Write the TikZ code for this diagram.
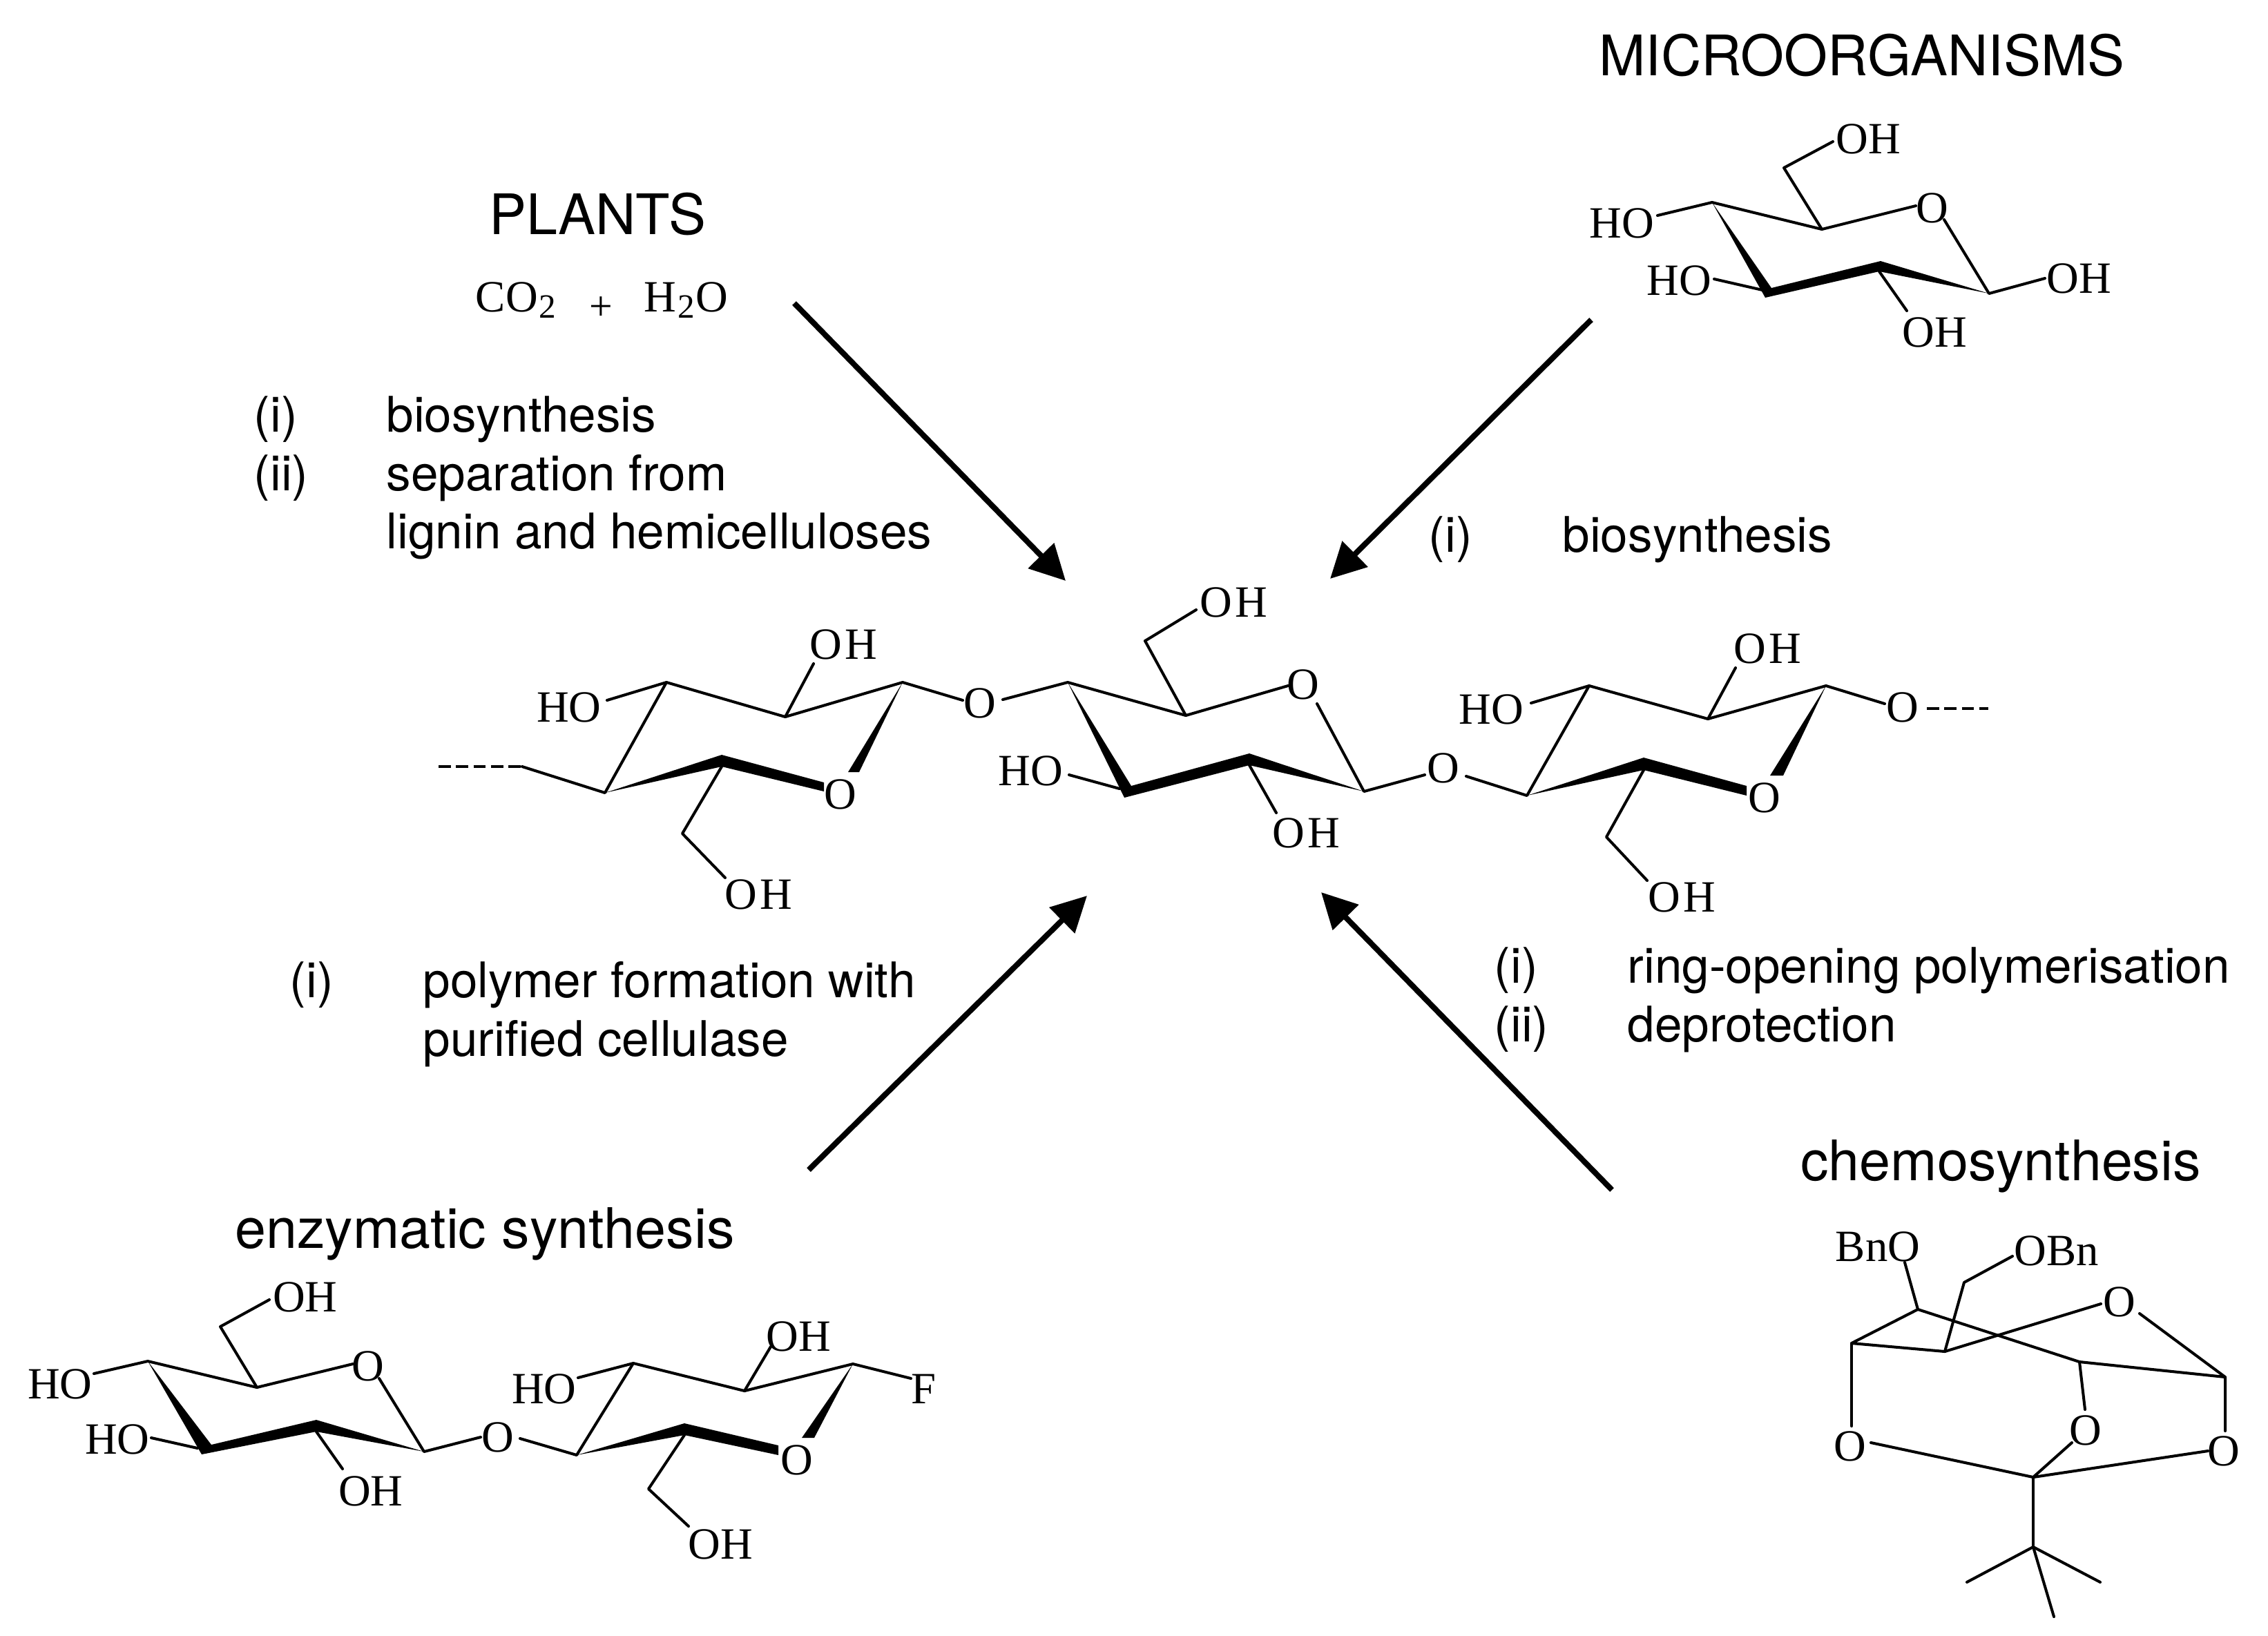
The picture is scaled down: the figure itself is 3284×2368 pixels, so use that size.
\documentclass[tikz,border=0pt]{standalone}
\usepackage{fontspec}
\setmainfont{TeX Gyre Heros}
\newfontfamily\chemserif{Liberation Serif}
\usetikzlibrary{arrows.meta}
\newcommand{\OHwide}{O\kern1.2pt H}
\newcommand{\subtwo}{\kern0.6pt\raisebox{-2.6pt}{\fontsize{14}{15}\selectfont 2}\kern0.4pt}
\tikzset{
  bond/.style={line width=1.15pt,line cap=round,line join=round},
  wedgefill/.style={fill=black,draw=none},
  chem/.style={font=\chemserif\fontsize{18.4}{20}\selectfont,inner sep=0pt},
  title/.style={font=\fontsize{23}{26}\selectfont,inner sep=0pt},
  lab/.style={font=\fontsize{20.2}{24}\selectfont,inner sep=0pt,anchor=base west},
  bigarrow/.style={line width=2.3pt,-{Triangle[length=14.5pt,width=14.5pt]}},
  dashb/.style={line width=1.4pt,dash pattern=on 5pt off 2.2pt},
}
\begin{document}
\begin{tikzpicture}[x=0.01cm,y=-0.01cm]
\useasboundingbox (0,0) rectangle (3284,2368);

% Titles
\node[title] (tplants) at (865,310) {PLANTS};
\node[title] (tmicro) at (2696,80) {MICROORGANISMS};
\node[title] (tchemo) at (2897,1689) {chemosynthesis};
\node[title] (tenz) at (702,1787) {enzymatic synthesis};

% CO2 + H2O
\node[chem,anchor=base] (co) at (748,451) {CO\subtwo};
\node[chem,font=\chemserif\fontsize{17}{20}\selectfont] (plus) at (870,447) {+};
\node[chem,anchor=base] (hho) at (993,451) {H\subtwo O};

% Side labels
\node[lab] (a1) at (367,625) {(i)};
\node[lab] (a1t) at (559,625) {biosynthesis};
\node[lab] (a2) at (367,710) {(ii)};
\node[lab] (a2t) at (559,710) {separation from};
\node[lab] (a3t) at (559,794) {lignin and hemicelluloses};
\node[lab] (b1) at (2068,799) {(i)};
\node[lab] (b1t) at (2262,799) {biosynthesis};
\node[lab] (c1) at (419,1444) {(i)};
\node[lab] (c1t) at (612,1444) {polymer formation with};
\node[lab] (c2t) at (612,1529) {purified cellulase};
\node[lab] (d1) at (2163,1423) {(i)};
\node[lab] (d1t) at (2356,1423) {ring-opening polymerisation};
\node[lab] (d2) at (2163,1508) {(ii)};
\node[lab] (d2t) at (2356,1508) {deprotection};

% Big arrows
\coordinate (ar1s) at (1150,439); \coordinate (ar1e) at (1543,841);
\coordinate (ar2s) at (2304,463); \coordinate (ar2e) at (1926,838);
\coordinate (ar3s) at (1171,1694); \coordinate (ar3e) at (1574,1297);
\coordinate (ar4s) at (2334,1723); \coordinate (ar4e) at (1913,1292);
\draw[bigarrow] (ar1s) -- (ar1e);
\draw[bigarrow] (ar2s) -- (ar2e);
\draw[bigarrow] (ar3s) -- (ar3e);
\draw[bigarrow] (ar4s) -- (ar4e);

% ---- Central chain: left unit
\draw[dashb] (635,1110) -- (756,1110);
\draw[bond] (756,1110) -- (876,1148) -- (965,988) -- (1137,1038) -- (1307,988) -- (1394,1014);
\draw[bond] (965,988) -- (879,1014);
\draw[bond] (1137,1038) -- (1178,961);
\draw[bond] (1045,1110) -- (988,1207) -- (1050,1271);
\fill[wedgefill] (876,1148) -- (1045,1093) -- (1193,1133) -- (1193,1146) -- (1045,1110) -- cycle;
\fill[wedgefill] (1307,988) -- (1244,1118) -- (1228,1118) -- cycle;
\node[chem] (l1) at (824,1024) {HO};
\node[chem] (l2) at (1221,933) {\OHwide};
\node[chem] (l3) at (1098,1295) {\OHwide};
\node[chem] (l4) at (1217,1150) {O};
\node[chem] (l5) at (1419,1018) {O};
% middle unit
\draw[bond] (1452,1013) -- (1546,988) -- (1717,1036) -- (1865,993);
\draw[bond] (1658,928) -- (1717,1036);
\draw[bond] (1658,928) -- (1732,883);
\draw[bond] (1548,1122) -- (1621,1142);
\draw[bond] (1907,1019) -- (1975,1146) -- (2063,1122);
\draw[bond] (1809,1108) -- (1848,1177);
\fill[wedgefill] (1546,988) -- (1638,1138) -- (1809,1091) -- (1975,1146) -- (1809,1108) -- (1628,1155) -- cycle;
\node[chem] (m1) at (1492,1116) {HO};
\node[chem] (m2) at (1786,872) {\OHwide};
\node[chem] (m3) at (1887,991) {O};
\node[chem] (m4) at (1891,1206) {\OHwide};
\node[chem] (m5) at (2090,1112) {O};
% right unit
\draw[bond] (2123,1124) -- (2211,1152) -- (2301,993) -- (2473,1041) -- (2644,993) -- (2729,1019);
\draw[bond] (2301,993) -- (2217,1018);
\draw[bond] (2473,1041) -- (2513,967);
\draw[bond] (2380,1115) -- (2326,1212) -- (2385,1275);
\fill[wedgefill] (2211,1152) -- (2380,1097) -- (2529,1138) -- (2529,1152) -- (2380,1115) -- cycle;
\fill[wedgefill] (2644,993) -- (2582,1123) -- (2563,1123) -- cycle;
\draw[dashb] (2790,1026) -- (2879,1026);
\node[chem] (r1) at (2159,1027) {HO};
\node[chem] (r2) at (2559,939) {\OHwide};
\node[chem] (r3) at (2755,1024) {O};
\node[chem] (r4) at (2555,1155) {O};
\node[chem] (r5) at (2435,1299) {\OHwide};

% ---- Microorganisms glucose
\draw[bond] (2654,205) -- (2583,243) -- (2638,332);
\draw[bond] (2400,312) -- (2479,293) -- (2638,332) -- (2774,298);
\draw[bond] (2815,318) -- (2880,425) -- (2961,403);
\draw[bond] (2482,404) -- (2552,420);
\draw[bond] (2721,393) -- (2761,450);
\fill[wedgefill] (2479,293) -- (2565,417) -- (2723,378) -- (2880,425) -- (2721,393) -- (2556,431) -- cycle;
\node[chem] (g1) at (2705,201) {OH};
\node[chem] (g2) at (2348,323) {HO};
\node[chem] (g3) at (2798,301) {O};
\node[chem] (g4) at (3010,403) {OH};
\node[chem] (g5) at (2431,406) {HO};
\node[chem] (g6) at (2801,481) {OH};

% ---- Enzymatic disaccharide
\draw[bond] (390,1882) -- (319,1921) -- (372,2009);
\draw[bond] (136,1989) -- (214,1971) -- (372,2009) -- (511,1975);
\draw[bond] (549,1996) -- (614,2102) -- (696,2081);
\draw[bond] (219,2082) -- (286,2097);
\draw[bond] (458,2073) -- (496,2127);
\fill[wedgefill] (214,1971) -- (306,2092) -- (458,2056) -- (614,2102) -- (458,2073) -- (292,2106) -- cycle;
\draw[bond] (753,2083) -- (835,2107) -- (917,1974) -- (1078,2014) -- (1235,1975) -- (1319,1996);
\draw[bond] (917,1974) -- (837,1995);
\draw[bond] (1078,2014) -- (1116,1950);
\draw[bond] (991,2078) -- (939,2156) -- (997,2210);
\fill[wedgefill] (835,2107) -- (991,2061) -- (1127,2093) -- (1127,2107) -- (991,2078) -- cycle;
\fill[wedgefill] (1235,1975) -- (1179,2082) -- (1161,2082) -- cycle;
\node[chem] (e1) at (442,1878) {OH};
\node[chem] (e2) at (87,2004) {HO};
\node[chem] (e3) at (533,1978) {O};
\node[chem] (e4) at (170,2084) {HO};
\node[chem] (e5) at (537,2159) {OH};
\node[chem] (e6) at (721,2081) {O};
\node[chem] (e7) at (788,2011) {HO};
\node[chem] (e8) at (1156,1935) {OH};
\node[chem] (e9) at (1337,2011) {F};
\node[chem] (e10) at (1154,2114) {O};
\node[chem] (e11) at (1043,2236) {OH};

% ---- Chemosynthesis orthoester
\draw[bond] (2758,1828) -- (2777,1896) -- (2681,1945) -- (2816,1957);
\draw[bond] (2816,1957) -- (2844,1857) -- (2914,1819);
\draw[bond] (2816,1957) -- (3042,1888);
\draw[bond] (3098,1902) -- (3222,1994);
\draw[bond] (2777,1896) -- (3011,1972) -- (3222,1994) -- (3222,2072);
\draw[bond] (3011,1972) -- (3019,2041);
\draw[bond] (3000,2089) -- (2944,2139);
\draw[bond] (2681,1945) -- (2681,2065);
\draw[bond] (2709,2089) -- (2944,2139) -- (3197,2101);
\draw[bond] (2944,2139) -- (2944,2240);
\draw[bond] (2848,2291) -- (2944,2240) -- (3041,2291);
\draw[bond] (2944,2240) -- (2974,2341);
\node[chem] (h1) at (2719,1805) {BnO};
\node[chem] (h2) at (2978,1811) {OBn};
\node[chem] (h3) at (3069,1885) {O};
\node[chem] (h4) at (3020,2071) {O};
\node[chem] (h5) at (2679,2094) {O};
\node[chem] (h6) at (3220,2101) {O};
\end{tikzpicture}
\end{document}
